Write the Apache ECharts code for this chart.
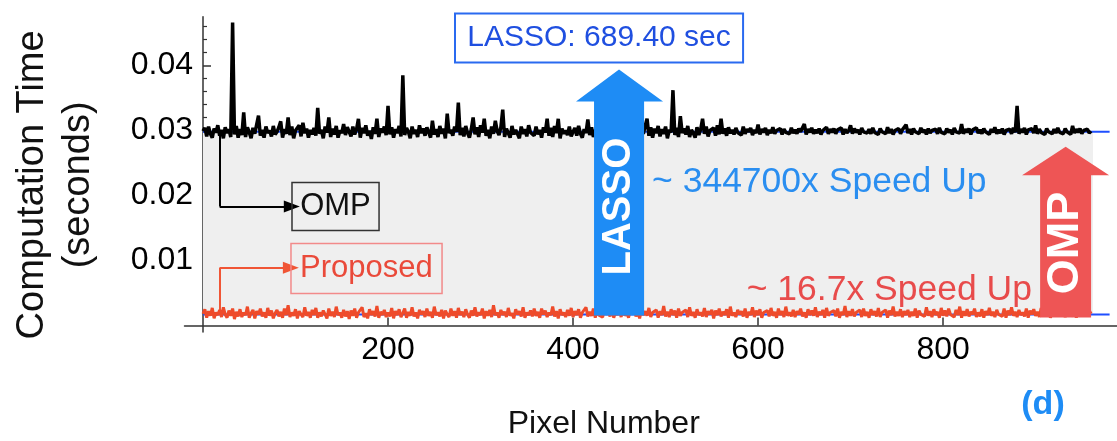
<!DOCTYPE html>
<html><head><meta charset="utf-8">
<script src="https://cdn.jsdelivr.net/npm/echarts@6/dist/echarts.min.js"></script>
<style>html,body{margin:0;padding:0;background:#fff}#c{width:1117px;height:441px}</style>
</head><body><div id="c"></div>
<script>
// ---- data: computation time in milliseconds, one sample every 2 pixels ----
const ompTimeMs = [
29.9,30.4,29.1,30.6,29.5,28.9,30.3,29.7,30.8,29.2,30.1,28.8,30.5,29.6,30.2,29.0,46.6,29.4,30.7,28.9,
30.2,29.3,32.8,29.0,30.5,29.7,28.8,30.4,29.5,30.9,32.3,29.2,30.1,28.9,30.6,29.6,30.0,29.1,30.7,29.4,
29.8,30.5,31.4,28.9,30.2,29.5,32.0,29.3,30.6,28.8,30.0,29.7,30.8,29.1,31.2,29.6,30.3,28.9,30.1,29.4,
30.4,29.2,33.5,29.5,30.1,28.8,30.6,29.7,32.0,29.0,30.3,29.4,30.7,28.9,30.0,29.6,31.0,29.3,30.5,29.8,
29.1,30.6,29.4,30.2,31.8,28.9,30.4,29.6,30.8,29.2,30.0,28.7,30.5,29.5,31.8,29.0,30.3,29.7,30.6,29.3,
33.8,29.4,30.5,28.9,30.2,29.6,30.7,29.1,38.5,29.3,30.4,29.8,28.8,30.6,29.5,30.1,29.0,30.8,29.6,30.3,
29.2,30.5,29.7,28.9,31.5,29.4,30.2,29.0,30.7,29.5,30.3,28.8,32.6,29.6,30.1,29.2,30.6,29.8,34.3,29.3,
30.4,29.1,30.7,29.6,28.9,30.2,32.0,29.4,30.5,29.0,30.8,29.7,31.8,29.2,30.1,28.8,30.6,29.5,31.5,29.9,
29.3,30.5,33.2,29.0,30.3,29.6,28.9,30.7,29.4,30.1,29.8,28.8,30.6,29.5,30.2,29.1,30.8,29.7,30.0,29.2,
30.6,29.4,30.1,28.9,30.5,29.7,31.8,29.2,30.4,29.0,30.7,29.6,31.8,28.8,30.3,29.5,30.0,29.3,30.6,29.1,
29.8,30.4,29.2,30.7,29.5,28.9,30.2,29.6,31.7,29.3,30.5,29.0,30.1,29.7,30.6,29.4,30.0,29.2,30.3,29.6,
29.9,30.2,29.5,30.4,29.3,30.1,29.7,30.5,29.2,30.0,29.6,30.3,29.4,30.6,29.8,30.1,29.3,30.4,29.5,30.7,
31.8,29.2,30.5,28.9,30.3,29.6,30.7,29.1,30.2,29.5,30.6,28.8,30.1,29.7,36.2,29.3,30.4,29.0,32.2,29.6,
30.3,29.4,30.7,29.0,30.1,29.6,28.9,30.5,29.3,30.2,31.8,29.5,30.6,29.1,30.0,29.7,30.4,29.2,30.8,29.4,
31.8,29.5,30.3,29.2,30.5,29.6,30.1,29.4,30.4,29.7,30.0,29.3,30.6,29.5,30.2,29.8,30.4,29.3,30.1,29.6,
30.9,29.4,30.2,29.7,30.4,29.3,30.1,29.6,30.5,29.5,30.0,29.8,30.3,29.4,30.2,29.7,30.0,29.5,30.4,29.6,
30.1,29.5,30.3,29.8,30.0,31.0,29.4,30.2,29.7,30.4,29.5,30.1,29.6,30.3,29.4,30.0,29.8,30.5,29.5,30.2,
29.7,30.3,29.5,30.1,29.8,30.4,29.4,30.2,29.6,30.0,30.8,29.5,30.3,29.7,30.1,29.4,30.4,29.8,30.0,29.6,
30.2,29.5,30.4,29.7,30.0,29.4,30.3,29.8,30.1,29.5,30.5,29.6,30.2,29.4,30.0,29.7,30.3,29.5,30.1,29.8,
30.9,29.6,30.2,29.4,30.3,29.8,30.0,29.5,30.4,29.7,30.1,29.4,30.3,29.6,30.0,29.8,30.2,29.5,30.4,29.7,
30.0,29.5,30.3,29.7,30.1,29.4,30.4,29.8,30.0,29.6,31.0,29.5,30.2,29.7,30.3,29.4,30.1,29.8,30.4,29.6,
30.1,29.5,30.3,29.8,30.0,29.4,30.2,29.7,30.5,29.5,30.1,29.6,30.3,29.4,30.0,29.8,30.2,29.5,30.4,29.7,
33.8,29.5,30.2,29.7,30.4,29.4,30.1,29.8,30.3,29.6,30.8,29.5,30.2,29.7,30.0,29.4,30.3,29.8,30.1,29.5,
30.2,29.6,30.4,29.7,30.0,29.5,30.3,29.8,30.1,29.4,30.7,29.6,30.2,29.7,30.3,29.5,30.0,29.8,30.2,29.6,
29.9
];
const proposedTimeMs = [
1.8,2.5,1.2,2.2,1.5,2.7,1.1,2.0,1.6,2.4,1.3,2.8,1.7,1.2,2.3,1.5,2.6,1.0,2.1,1.4,
2.5,1.3,2.0,1.6,2.9,1.2,1.9,2.4,1.1,2.2,1.7,2.6,1.4,2.0,1.2,2.7,1.5,2.3,1.1,1.9,
2.4,1.4,2.1,1.2,2.6,1.6,3.1,1.3,2.0,1.5,2.5,1.1,2.2,1.7,1.3,2.8,1.5,2.1,1.2,2.4,
1.6,2.7,1.2,2.0,1.4,2.3,1.7,1.1,2.6,1.5,2.1,1.3,2.9,1.6,2.0,1.2,2.4,1.4,2.2,1.0,
2.3,1.5,2.6,1.2,2.0,1.7,2.8,1.3,1.9,1.1,2.5,1.6,2.2,1.4,3.0,1.2,2.1,1.6,2.4,1.3,
2.0,1.4,2.7,1.1,2.2,1.6,2.5,1.3,1.9,2.6,1.2,2.1,1.5,2.8,1.4,2.0,1.1,2.4,1.7,2.2,
1.3,2.6,1.5,2.1,1.2,2.9,1.6,2.0,1.4,2.4,1.1,2.3,1.7,1.3,2.6,1.5,2.2,1.2,2.7,1.6,
2.1,1.3,2.5,1.7,1.2,2.3,1.5,2.8,1.4,2.0,1.6,2.6,1.1,2.2,1.5,2.4,1.3,3.1,1.6,2.0,
1.2,2.4,1.6,2.1,1.3,2.7,1.5,1.9,1.1,2.5,1.7,2.2,1.4,2.8,1.2,2.0,1.6,2.3,1.4,2.6,
1.5,2.1,1.2,2.6,1.7,2.3,1.3,2.0,1.6,2.9,1.4,2.2,1.1,2.5,1.6,2.0,1.3,2.4,1.5,2.7,
1.3,2.2,1.6,2.5,1.2,2.0,1.7,2.8,1.4,2.1,1.5,2.6,1.2,2.3,1.6,1.9,1.3,2.5,1.7,2.2,
1.4,2.6,1.2,2.1,1.6,2.4,1.3,2.9,1.5,2.0,1.2,2.3,1.7,2.6,1.4,2.1,1.1,2.5,1.6,2.2,
1.5,2.7,1.3,2.0,1.7,2.4,1.2,2.2,1.6,3.0,1.4,2.1,1.3,2.5,1.6,2.3,1.2,2.6,1.5,2.0,
1.7,2.4,1.3,2.8,1.5,2.1,1.2,2.5,1.6,2.0,1.4,2.7,1.3,2.2,1.7,2.4,1.1,2.3,1.6,2.6,
1.4,2.1,1.6,2.5,1.2,2.9,1.5,2.0,1.3,2.4,1.7,2.2,1.4,2.6,1.2,2.1,1.6,2.8,1.3,2.3,
1.6,2.5,1.2,2.0,1.7,2.3,1.4,2.7,1.5,2.1,1.2,2.6,1.6,2.2,1.3,2.9,1.5,2.0,1.4,2.4,
1.3,2.2,1.7,2.6,1.4,2.0,1.2,2.5,1.6,2.3,1.5,2.8,1.3,2.1,1.6,2.4,1.2,2.7,1.5,2.0,
1.7,2.3,1.4,2.6,1.2,2.1,1.6,3.0,1.3,2.2,1.5,2.5,1.4,2.0,1.7,2.4,1.3,2.6,1.5,2.1,
1.2,2.5,1.6,2.2,1.4,2.7,1.3,2.0,1.7,2.4,1.2,2.3,1.6,2.9,1.4,2.1,1.5,2.5,1.3,2.2,
1.6,2.4,1.3,2.1,1.5,2.6,1.2,2.3,1.7,2.0,1.4,2.8,1.5,2.2,1.3,2.5,1.6,2.1,1.2,2.7,
1.5,2.3,1.4,2.6,1.7,2.0,1.3,2.4,1.6,2.9,1.2,2.2,1.5,2.5,1.4,2.1,1.7,2.6,1.3,2.0,
1.4,2.5,1.2,2.2,1.6,2.7,1.5,2.1,1.3,2.4,1.7,2.0,1.4,2.6,1.2,2.3,1.6,2.8,1.5,2.1,
1.3,2.4,1.6,2.0,1.4,2.6,1.2,2.3,1.7,2.5,1.5,2.1,1.3,2.7,1.6,2.2,1.4,2.5,1.2,2.0,
1.6,2.3,1.4,2.6,1.5,2.1,1.3,2.4,1.7,2.0,1.5,2.5,1.2,2.2,1.6,2.4,1.4,2.1,1.5,2.3,
1.8
];
const pixelNumber = ompTimeMs.map((_, i) => i * 2);
const ompMeanMs = [29.8, 29.8];
const proposedMeanMs = [1.7, 1.7];
const meanSpan = [0, 980];
const xTickValues = [200, 400, 600, 800];
const yTickValues = [0.01, 0.02, 0.03, 0.04];
const yMinorTickValues = [0.002,0.004,0.006,0.008,0.012,0.014,0.016,0.018,0.022,0.024,0.026,0.028,0.032,0.034,0.036,0.038,0.042,0.044,0.046];
const lassoTimeLabel = 'LASSO: 689.40 sec';
const lassoSpeedLabel = '~ 344700x Speed Up';
const ompSpeedLabel = '~ 16.7x Speed Up';

const FONT = "'Liberation Sans', Arial, Helvetica, sans-serif";
const chart = echarts.init(document.getElementById('c'), null, {renderer: 'canvas'});
const toSec = (xs, ysMs) => xs.map((x, i) => [x, ysMs[i] / 1000]);

chart.setOption({
  animation: false,
  backgroundColor: '#fff',
  grid: {left: 184.5, right: 0, top: 16.75, bottom: 109, containLabel: false, outerBoundsMode: 'none'},
  xAxis: {
    type: 'value', min: -20, max: 988,
    name: 'Pixel Number', nameLocation: 'middle', nameGap: 76,
    nameTextStyle: {fontFamily: FONT, fontSize: 32, color: '#111', padding: [0, 94, 0, 0]},
    axisLine: {onZero: true, lineStyle: {color: '#333', width: 1.5}},
    axisTick: {inside: true, length: 8, customValues: xTickValues, lineStyle: {color: '#333', width: 1.5}},
    axisLabel: {customValues: xTickValues, fontFamily: FONT, fontSize: 32, color: '#000', margin: 2.5},
    splitLine: {show: false}
  },
  yAxis: [{
    type: 'value', min: -0.001, max: 0.0475,
    name: 'Computation Time\n(seconds)', nameLocation: 'middle', nameGap: 83, nameRotate: 90,
    nameTextStyle: {fontFamily: FONT, fontSize: 38, lineHeight: 46, color: '#111', padding: [0, 21, 0, 0]},
    axisLine: {onZero: true, onZeroAxisIndex: 0, lineStyle: {color: '#333', width: 1.5}},
    axisTick: {inside: true, length: 8, customValues: yTickValues, lineStyle: {color: '#333', width: 1.5}},
    axisLabel: {customValues: yTickValues, fontFamily: FONT, fontSize: 32, color: '#000', margin: -8.5},
    splitLine: {show: false}
  }, {
    type: 'value', min: -0.001, max: 0.0475, position: 'left',
    axisLine: {show: false, onZero: true, onZeroAxisIndex: 0},
    axisTick: {show: true, inside: true, length: 4, customValues: yMinorTickValues, lineStyle: {color: '#333', width: 1.2}},
    axisLabel: {show: false},
    splitLine: {show: false}
  }],
  series: [
    {
      name: 'OMP mean', type: 'line', z: 2, symbol: 'none', silent: true,
      data: toSec(meanSpan, ompMeanMs),
      lineStyle: {color: '#1f4fff', width: 2},
      markArea: {silent: true, itemStyle: {color: '#efefef'},
        data: [[{coord: [0, 0.0018]}, {coord: [962, 0.0296]}]]}
    },
    {
      name: 'Proposed mean', type: 'line', z: 2, symbol: 'none', silent: true,
      data: toSec(meanSpan, proposedMeanMs),
      lineStyle: {color: '#1f4fff', width: 2}
    },
    {
      name: 'OMP', type: 'line', z: 4, symbol: 'none', silent: true,
      data: toSec(pixelNumber, ompTimeMs),
      lineStyle: {color: '#000', width: 3.5},
      markLine: {silent: true, symbolSize: [12, 16], label: {show: false},
        lineStyle: {color: '#000', width: 2, type: 'solid'},
        data: [
          [{coord: [18, 0.0298], symbol: 'none'}, {coord: [18, 0.0183], symbol: 'none'}],
          [{coord: [18, 0.0183], symbol: 'none'}, {coord: [96, 0.0183], symbol: 'triangle'}]
        ]}
    },
    {
      name: 'Proposed', type: 'line', z: 5, symbol: 'none', silent: true,
      data: toSec(pixelNumber, proposedTimeMs),
      lineStyle: {color: '#ee4b2b', width: 3},
      markLine: {silent: true, symbolSize: [12, 16], label: {show: false},
        lineStyle: {color: '#f05535', width: 2, type: 'solid'},
        data: [
          [{coord: [18, 0.0018], symbol: 'none'}, {coord: [18, 0.0089], symbol: 'none'}],
          [{coord: [18, 0.0089], symbol: 'none'}, {coord: [95, 0.0089], symbol: 'triangle'}]
        ]}
    }
  ]
});

// ---- annotations placed in data coordinates ----
const P = (x, y) => chart.convertToPixel({gridIndex: 0}, [x, y]);
function rectFrom(x1, y1, x2, y2, style) {
  const a = P(x1, y1), b = P(x2, y2);
  return {type: 'rect', z: 100, silent: true,
    shape: {x: Math.min(a[0], b[0]), y: Math.min(a[1], b[1]), width: Math.abs(b[0]-a[0]), height: Math.abs(b[1]-a[1])},
    style: style};
}
function textAt(x, y, text, style, rotation) {
  const p = P(x, y);
  return {type: 'text', z: 101, silent: true, x: p[0], y: p[1], rotation: rotation || 0,
    style: Object.assign({text: text, x: 0, y: 0, fontFamily: FONT, align: 'center', verticalAlign: 'middle'}, style)};
}
function upArrow(xl, xr, hl, hr, tipX, tipY, baseY, bottomY, color) {
  const pts = [[xl, bottomY], [xl, baseY], [hl, baseY], [tipX, tipY], [hr, baseY], [xr, baseY], [xr, bottomY]].map(p => P(p[0], p[1]));
  return {type: 'polygon', z: 99, silent: true, shape: {points: pts}, style: {fill: color}};
}

const g = [];
g.push(rectFrom(272.4, 0.0480, 583.8, 0.04046, {fill: '#fff', stroke: '#2a6af0', lineWidth: 2}));
g.push(textAt(428.1, 0.04423, lassoTimeLabel, {fontSize: 30, fill: '#1f4fe0'}));
g.push(upArrow(422.7, 476.8, 403.2, 497.3, 449.7, 0.0394, 0.03446, 0.00154, '#1e8cf5'));
g.push(textAt(449.7, 0.0183, 'LASSO', {fontSize: 40, fontWeight: 'bold', fill: '#fff'}, Math.PI / 2));
g.push(textAt(485.4, 0.0220, lassoSpeedLabel, {fontSize: 35.5, fill: '#2a8ef0', align: 'left'}));
g.push(upArrow(904.9, 960.0, 885.4, 979.5, 932.5, 0.0275, 0.0231, 0.00123, '#ee5555'));
g.push(textAt(932.5, 0.01269, 'OMP', {fontSize: 45, fontWeight: 'bold', fill: '#fff'}, Math.PI / 2));
g.push(textAt(896, 0.00538, ompSpeedLabel, {fontSize: 35.5, fill: '#e84b4b', align: 'right'}));
g.push(rectFrom(96.2, 0.0220, 190.3, 0.01462, {fill: 'rgba(0,0,0,0)', stroke: '#333', lineWidth: 1.5}));
g.push(textAt(143.2, 0.01831, 'OMP', {fontSize: 31, fill: '#111'}));
g.push(rectFrom(95.1, 0.01262, 258.4, 0.00492, {fill: 'rgba(0,0,0,0)', stroke: '#f28a8a', lineWidth: 1.5}));
g.push(textAt(176.7, 0.00877, 'Proposed', {fontSize: 31, fill: '#ea4a3a'}));
g.push(textAt(908, -0.0122, '(d)', {fontSize: 34, fontWeight: 'bold', fill: '#1e8cf5'}));

chart.setOption({graphic: {elements: g}});
</script></body></html>
